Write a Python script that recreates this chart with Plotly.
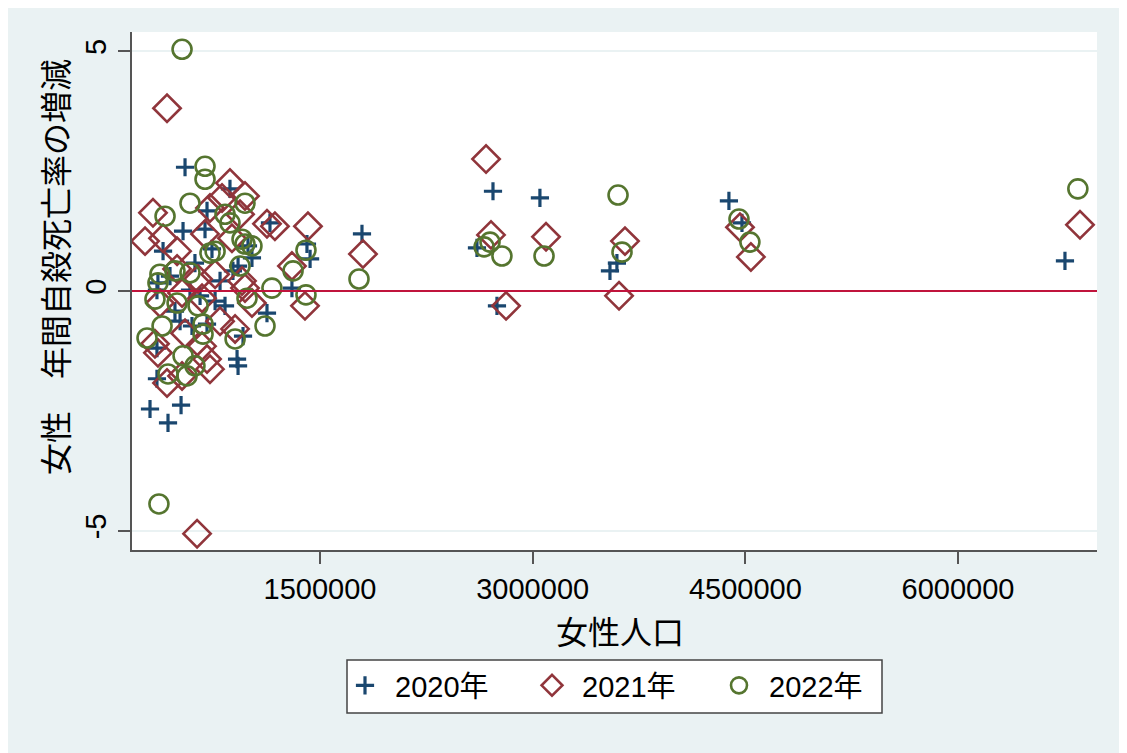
import plotly.graph_objects as go

# ---- data ----
pop_2020 = [6754000, 4384000, 4476000, 3545000, 3594000, 3051000, 2720000, 2607000, 2748000,
            1796000, 1408000, 1430000, 1302000, 1147000,
            301000, 428000, 520000, 350000, 350000, 830000, 513000, 597000, 703000, 1126000,
            957000, 915000, 922000, 548000, 703000, 689000, 534000, 393000, 865000, 357000,
            1020000, 922000, 886000, 618000, 350000, 654000, 760000, 477000, 583000, 795000,
            992000, 738000, 442000]
chg_2020 = [0.63, 1.88, 1.42, 0.42, 0.58, 1.94, 2.08, 0.90, -0.31,
            1.19, 0.98, 0.67, 0.06, 1.42,
            -2.46, -2.75, -2.38, -1.19, -1.83, -0.31, -0.63, -0.73, -0.69, -0.46,
            -0.94, -1.42, -1.56, 2.58, 1.67, 1.29, 1.25, 0.83, 2.13, 0.17,
            0.69, 0.52, 0.42, 0.58, 0.02, -0.10, -0.21, -0.42, 0.02, 0.21,
            0.94, 0.88, 0.31]

pop_2021 = [6860000, 4539000, 4462000, 3651000, 3609000, 3094000, 2671000, 2706000, 2812000,
            1803000, 1415000, 1394000, 1302000, 1182000, 1126000,
            421000, 633000, 322000, 266000, 393000, 492000, 689000, 724000, 809000, 865000,
            492000, 640000, 760000, 971000, 936000, 879000, 950000, 371000, 527000, 668000,
            548000, 357000, 668000, 703000, 421000, 527000, 724000, 1020000, 901000, 971000,
            336000, 795000]
chg_2021 = [1.38, 0.71, 1.33, 1.04, -0.10, 1.13, 2.75, 1.17, -0.31,
            0.77, 1.35, -0.31, 0.52, 1.35, 1.40,
            3.81, -5.06, 1.63, 1.04, 1.10, 0.83, 1.19, 1.73, 1.94, 2.25,
            0.46, 0.25, 0.35, 1.98, 1.60, 1.10, 0.21, -0.25, -0.04, -0.15,
            -0.88, -1.29, -1.15, -1.42, -1.92, -1.77, -1.63, -0.25, -0.79, 0.06,
            -1.10, -0.63]

pop_2022 = [6845000, 4455000, 4532000, 3602000, 3630000, 3080000, 2783000, 2699000, 2657000,
            1775000, 1401000, 1401000, 1310000, 1161000,
            527000, 364000, 689000, 689000, 583000, 407000, 830000, 865000, 724000, 760000,
            371000, 477000, 583000, 971000, 950000, 971000, 1020000, 936000, 336000, 492000,
            640000, 386000, 280000, 675000, 675000, 534000, 618000, 428000, 562000, 985000,
            1112000, 901000, 357000]
chg_2022 = [2.13, 1.50, 1.02, 2.00, 0.81, 0.73, 0.73, 1.02, 0.92,
            0.25, 0.85, -0.08, 0.42, 0.06,
            5.04, -4.44, 2.60, 2.33, 1.83, 1.56, 1.60, 1.42, 0.79, 0.83,
            0.35, 0.42, 0.38, 1.83, 1.08, 0.98, 0.94, 0.52, -0.17, -0.25,
            -0.31, -0.73, -0.98, -0.69, -0.90, -1.35, -1.56, -1.73, -1.77, -0.15,
            -0.73, -1.00, 0.17]

series_names = ["2020年", "2021年", "2022年"]
x_ticks = [1500000, 3000000, 4500000, 6000000]
y_ticks = [-5, 0, 5]

x_title = "女性人口"
y_title = "女性　年間自殺死亡率の増減"

FONT = "Liberation Sans, Arial, Noto Sans CJK JP, sans-serif"
BG = "#EAF2F3"

fig = go.Figure()
fig.add_trace(go.Scatter(
    x=pop_2020, y=chg_2020, mode="markers", name=series_names[0],
    marker=dict(symbol="cross-thin-open", size=13, line=dict(color="#1A476F", width=3.2),
                color="#1A476F")))
fig.add_trace(go.Scatter(
    x=pop_2021, y=chg_2021, mode="markers", name=series_names[1],
    marker=dict(symbol="diamond-open", size=21, line=dict(color="#90353B", width=2.6),
                color="#90353B")))
fig.add_trace(go.Scatter(
    x=pop_2022, y=chg_2022, mode="markers", name=series_names[2],
    marker=dict(symbol="circle-open", size=19, line=dict(color="#55752F", width=2.6),
                color="#55752F")))

# page body has an 8px margin, so work in reference-pixel coords and shift
OFF = 8
W, H = 1127, 753
L, R, T, B = 132, 1097, 32, 550
pw, ph = R - L, B - T

def px_x(p):
    return (p - L) / pw

def px_y(p):
    return (B - p) / ph

shapes = [
    dict(type="rect", xref="paper", yref="paper", x0=px_x(0), x1=px_x(W + 20),
         y0=px_y(H + 100), y1=px_y(0), fillcolor=BG, line=dict(width=0), layer="below"),
    dict(type="rect", xref="paper", yref="paper", x0=0, x1=1, y0=0, y1=1,
         fillcolor="white", line=dict(width=0), layer="below"),
    dict(type="line", xref="paper", yref="y", x0=0, x1=1, y0=0, y1=0,
         line=dict(color="#C0143C", width=2), layer="above"),
    # legend frame
    dict(type="rect", xref="paper", yref="paper", x0=px_x(347), x1=px_x(882),
         y0=px_y(713), y1=px_y(660), fillcolor="white",
         line=dict(color="#444", width=1.5), layer="below"),
]

fig.update_layout(
    width=W - OFF, height=H - OFF,
    margin=dict(l=L - OFF, r=W - R, t=T - OFF, b=H - B, pad=0),
    paper_bgcolor=BG, plot_bgcolor="rgba(0,0,0,0)",
    font=dict(family=FONT, size=29, color="black"),
    showlegend=True,
    legend=dict(orientation="h", x=px_x(335), xanchor="left", y=px_y(660), yanchor="top",
                bgcolor="rgba(0,0,0,0)", borderwidth=0, itemwidth=50,
                font=dict(size=29, family=FONT), entrywidth=122, entrywidthmode="pixels",
                itemsizing="trace", tracegroupgap=0),
    shapes=shapes,
    annotations=[
        dict(text=x_title, xref="paper", yref="paper", x=px_x(620), y=px_y(633),
             xanchor="center", yanchor="middle",
             showarrow=False, font=dict(size=32, family=FONT)),
        dict(text=y_title, xref="paper", yref="paper", x=px_x(57), y=px_y(267),
             xanchor="center", yanchor="middle",
             textangle=-90, showarrow=False, font=dict(size=32, family=FONT)),
    ],
)

fig.update_xaxes(
    range=[174000, 6980000], tickvals=x_ticks, ticktext=[str(v) for v in x_ticks],
    showgrid=False, zeroline=False, showline=True, linecolor="#555", linewidth=2,
    ticks="outside", ticklen=12, tickwidth=1.5, tickcolor="#555",
    tickfont=dict(size=29, family=FONT))
fig.update_yaxes(
    range=[-5.4, 5.4], tickvals=y_ticks, ticktext=[str(v) for v in y_ticks],
    showgrid=True, gridcolor=BG, gridwidth=2, zeroline=False,
    showline=True, linecolor="#555", linewidth=2,
    ticks="outside", ticklen=12, tickwidth=1.5, tickcolor="#555",
    tickangle=-90, tickfont=dict(size=29, family=FONT))

fig.write_html("out.html")
